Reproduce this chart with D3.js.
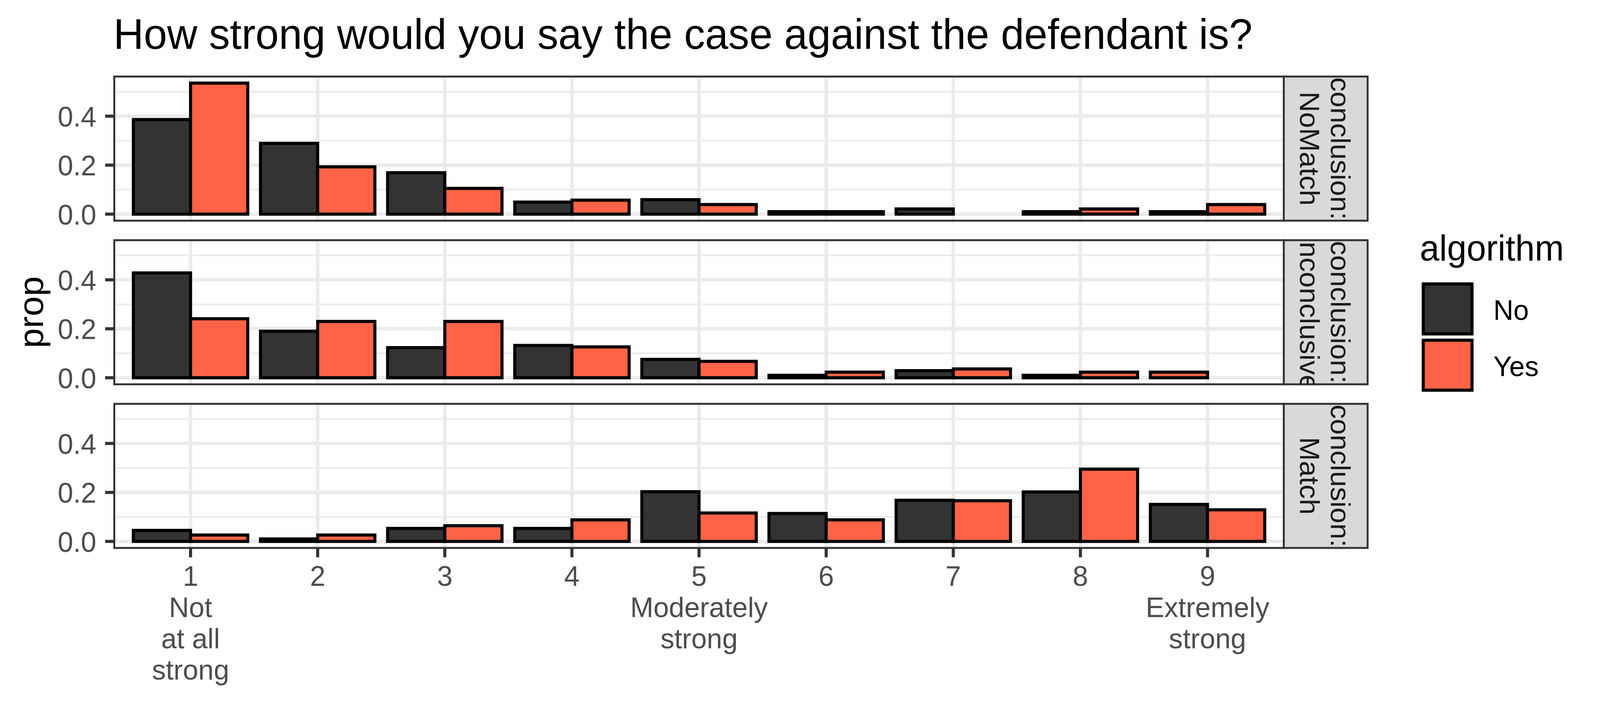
<!DOCTYPE html>
<html lang="en">
<head>
<meta charset="UTF-8">
<title>How strong would you say the case against the defendant is?</title>
<script src="https://d3js.org/d3.v7.min.js"></script>
<style>
  html, body { margin: 0; padding: 0; overflow: hidden; background: #fff; }
  svg { display: block; width: 100vw; height: 100vh; background: #fff; font-family: "Liberation Sans", Arial, sans-serif; }
  .grid line { stroke: #ebebeb; }
  .tick-label { fill: #4d4d4d; font-size: 73px; }
  .strip-label { fill: #1a1a1a; font-size: 73px; }
</style>
</head>
<body>
<svg viewBox="0 0 4200 1800" preserveAspectRatio="none"></svg>
<script>
  // --- data ---
  const scores = [1, 2, 3, 4, 5, 6, 7, 8, 9];
  const scoreLabels = [
    ["1", "Not", "at all", "strong"], ["2"], ["3"], ["4"],
    ["5", "Moderately", "strong"], ["6"], ["7"], ["8"],
    ["9", "Extremely", "strong"]
  ];
  const algorithms = ["No", "Yes"];
  const algorithmColors = ["#333333", "#ff6347"];
  const conclusions = ["NoMatch", "Inconclusive", "Match"];

  const noMatchNo  = [0.386, 0.289, 0.169, 0.049, 0.059, 0.010, 0.021, 0.010, 0.010];
  const noMatchYes = [0.535, 0.193, 0.105, 0.057, 0.039, 0.010, null,  0.021, 0.039];
  const inconclusiveNo  = [0.428, 0.190, 0.123, 0.132, 0.075, 0.010, 0.029, 0.010, null];
  const inconclusiveYes = [0.241, 0.230, 0.230, 0.126, 0.067, 0.023, 0.036, 0.023, 0.023];
  const matchNo  = [0.045, 0.010, 0.053, 0.053, 0.203, 0.114, 0.168, 0.202, 0.151];
  const matchYes = [0.026, 0.026, 0.064, 0.088, 0.116, 0.088, 0.166, 0.295, 0.129];

  const yTicks = [0, 0.2, 0.4];
  const yMinor = [0.1, 0.3, 0.5];

  const panelValues = [
    [noMatchNo, noMatchYes],
    [inconclusiveNo, inconclusiveYes],
    [matchNo, matchYes]
  ];

  // --- layout ---
  const svg = d3.select("svg");
  const left = 300, right = 3370;
  const panelTop0 = 196, panelH = 369, panelGap = 50;
  const stripW = 220;

  const x = d3.scalePoint().domain(scores).range([left, right]).padding(0.6);
  const step = x.step();
  const barW = 0.45 * step;

  const maxVal = d3.max(panelValues.flat(2).filter(v => v != null));

  svg.append("rect").attr("width", 4200).attr("height", 1800).attr("fill", "#fff");

  svg.append("text")
      .attr("x", 298)
      .attr("y", 125)
      .attr("font-size", 110)
      .attr("fill", "#000")
      .text("How strong would you say the case against the defendant is?");

  const defs = svg.append("defs");

  conclusions.forEach((conc, pi) => {
    const top = panelTop0 + pi * (panelH + panelGap);
    const bottom = top + panelH;
    const y = d3.scaleLinear()
        .domain([-0.05 * maxVal, 1.05 * maxVal])
        .range([bottom, top]);

    defs.append("clipPath").attr("id", "clip" + pi)
      .append("rect").attr("x", left).attr("y", top)
        .attr("width", right - left).attr("height", panelH);
    defs.append("clipPath").attr("id", "sclip" + pi)
      .append("rect").attr("x", right).attr("y", top)
        .attr("width", stripW).attr("height", panelH);

    const g = svg.append("g").attr("clip-path", `url(#clip${pi})`);

    const grid = g.append("g").attr("class", "grid");
    grid.selectAll(".minor").data(yMinor).join("line")
        .attr("x1", left).attr("x2", right)
        .attr("y1", d => y(d)).attr("y2", d => y(d))
        .attr("stroke-width", 4.4);
    grid.selectAll(".majy").data(yTicks).join("line")
        .attr("x1", left).attr("x2", right)
        .attr("y1", d => y(d)).attr("y2", d => y(d))
        .attr("stroke-width", 8.9);
    grid.selectAll(".majx").data(scores).join("line")
        .attr("x1", d => x(d)).attr("x2", d => x(d))
        .attr("y1", top).attr("y2", bottom)
        .attr("stroke-width", 8.9);

    // dodge with preserve = "single": a lone bar takes the left slot
    const bars = [];
    scores.forEach((s, i) => {
      const present = algorithms
        .map((a, ai) => ({ a, ai, v: panelValues[pi][ai][i] }))
        .filter(d => d.v != null);
      present.forEach((d, slot) => {
        bars.push({ score: s, ai: d.ai, v: d.v, slot });
      });
    });

    g.append("g").selectAll("rect").data(bars).join("rect")
        .attr("x", d => x(d.score) - barW + d.slot * barW)
        .attr("width", barW)
        .attr("y", d => y(d.v))
        .attr("height", d => y(0) - y(d.v))
        .attr("fill", d => algorithmColors[d.ai])
        .attr("stroke", "#000")
        .attr("stroke-width", 8);

    svg.append("rect")
        .attr("x", left).attr("y", top)
        .attr("width", right - left).attr("height", panelH)
        .attr("fill", "none")
        .attr("stroke", "#333333")
        .attr("stroke-width", 5);

    // y axis
    const ya = svg.append("g");
    ya.selectAll("line").data(yTicks).join("line")
        .attr("x1", left - 24).attr("x2", left)
        .attr("y1", d => y(d)).attr("y2", d => y(d))
        .attr("stroke", "#333333").attr("stroke-width", 8);
    ya.selectAll("text").data(yTicks).join("text")
        .attr("class", "tick-label")
        .attr("x", 253)
        .attr("y", d => y(d))
        .attr("dy", "0.36em")
        .attr("text-anchor", "end")
        .text(d => d3.format(".1f")(d));

    // strip
    svg.append("rect")
        .attr("x", right).attr("y", top)
        .attr("width", stripW).attr("height", panelH)
        .attr("fill", "#d9d9d9")
        .attr("stroke", "#333333")
        .attr("stroke-width", 5);
    const st = svg.append("g").attr("clip-path", `url(#sclip${pi})`);
    const cy = (top + bottom) / 2;
    [["conclusion:", 3493], [conc, 3413]].forEach(([txt, bx]) => {
      st.append("text")
          .attr("class", "strip-label")
          .attr("transform", `translate(${bx},${cy}) rotate(90)`)
          .attr("text-anchor", "middle")
          .text(txt);
    });

    if (pi === conclusions.length - 1) {
      const xa = svg.append("g");
      xa.selectAll("line").data(scores).join("line")
          .attr("x1", d => x(d)).attr("x2", d => x(d))
          .attr("y1", bottom).attr("y2", bottom + 24)
          .attr("stroke", "#333333").attr("stroke-width", 8);
      const lab = xa.selectAll("text").data(scores).join("text")
          .attr("class", "tick-label")
          .attr("text-anchor", "middle");
      lab.selectAll("tspan").data((d, i) => scoreLabels[i].map(t => ({ t, s: d })))
        .join("tspan")
          .attr("x", d => x(d.s))
          .attr("y", (d, j) => 1500 + j * 80)
          .text(d => d.t);
    }
  });

  // y axis title
  svg.append("text")
      .attr("transform", `translate(113,${(panelTop0 + panelTop0 + 3 * panelH + 2 * panelGap) / 2}) rotate(-90)`)
      .attr("text-anchor", "middle")
      .attr("font-size", 92)
      .attr("fill", "#000")
      .text("prop");

  // legend
  const legend = svg.append("g");
  legend.append("text")
      .attr("x", 3727).attr("y", 667)
      .attr("font-size", 92).attr("fill", "#000")
      .text("algorithm");
  const keyX = 3730, keyY = 721, keySize = 144;
  algorithms.forEach((a, i) => {
    legend.append("rect")
        .attr("x", keyX + 6).attr("y", keyY + i * keySize + 6)
        .attr("width", keySize - 16).attr("height", keySize - 16)
        .attr("fill", algorithmColors[i])
        .attr("stroke", "#000").attr("stroke-width", 8);
    legend.append("text")
        .attr("x", 3920)
        .attr("y", keyY + i * keySize + keySize / 2)
        .attr("dy", "0.36em")
        .attr("font-size", 73).attr("fill", "#000")
        .text(a);
  });
</script>
</body>
</html>
